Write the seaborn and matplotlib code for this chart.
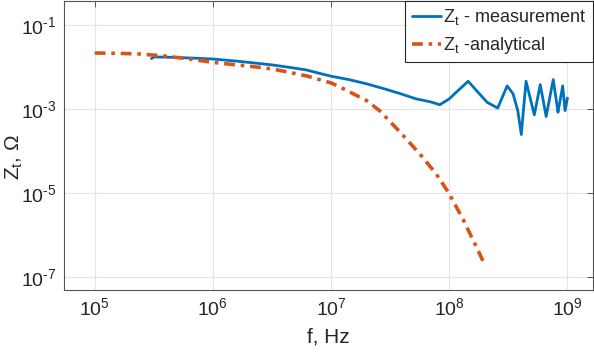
import matplotlib
matplotlib.use("Agg")
import matplotlib.pyplot as plt
import numpy as np
import pandas as pd
import seaborn as sns

# values (log10 of f in Hz, log10 of Z in Ohm)
meas_logf = [5.48, 5.50, 5.66, 5.85, 6.00, 6.20, 6.37, 6.50, 6.65, 6.79, 6.90,
             7.00, 7.15, 7.30, 7.45, 7.58, 7.72, 7.84, 7.92, 8.00, 8.06, 8.16,
             8.23, 8.32, 8.41, 8.49, 8.54, 8.58, 8.61, 8.63, 8.65, 8.69, 8.72,
             8.77, 8.79, 8.82, 8.88, 8.91, 8.92, 8.96, 8.98, 9.00]
meas_logz = [-1.80, -1.76, -1.77, -1.79, -1.81, -1.86, -1.91, -1.95, -2.01, -2.07, -2.15,
             -2.22, -2.30, -2.40, -2.52, -2.63, -2.76, -2.83, -2.90, -2.76, -2.60, -2.34,
             -2.56, -2.84, -2.98, -2.45, -2.64, -3.04, -3.61, -2.96, -2.34, -2.80, -3.14,
             -2.42, -2.72, -3.18, -2.30, -2.88, -3.08, -2.45, -3.04, -2.74]

ana_logf = [5.0, 5.2, 5.38, 5.6, 5.8, 6.0, 6.2, 6.4, 6.51, 6.79, 7.0, 7.07,
            7.30, 7.41, 7.58, 7.75, 7.89, 8.0, 8.12, 8.23, 8.29]
ana_logz = [-1.667, -1.675, -1.69, -1.74, -1.81, -1.89, -1.95, -2.01, -2.05, -2.21, -2.38, -2.47,
            -2.80, -3.04, -3.54, -4.07, -4.55, -5.02, -5.65, -6.29, -6.65]

xticks = [1e5, 1e6, 1e7, 1e8, 1e9]
yticks = [1e-7, 1e-5, 1e-3, 1e-1]
ytick_labels = [r"$\mathregular{10^{\text{-}7}}$", r"$\mathregular{10^{\text{-}5}}$",
                r"$\mathregular{10^{\text{-}3}}$", r"$\mathregular{10^{\text{-}1}}$"]

meas = pd.DataFrame({"f": 10 ** np.array(meas_logf), "Z": 10 ** np.array(meas_logz)})
ana = pd.DataFrame({"f": 10 ** np.array(ana_logf), "Z": 10 ** np.array(ana_logz)})

sns.set_style("white")
plt.rcParams['font.family'] = ['Liberation Sans', 'DejaVu Sans']
plt.rcParams['mathtext.fontset'] = 'custom'
plt.rcParams['mathtext.rm'] = 'Liberation Sans'
plt.rcParams['mathtext.it'] = 'Liberation Sans'

fig = plt.figure(figsize=(5.94, 3.56), dpi=100)
ax = fig.add_axes([0.107, 0.185, 0.891, 0.813])

sns.lineplot(data=meas, x="f", y="Z", ax=ax, color="#0072BD", lw=2.0,
             sort=False, estimator=None, label=r"$\mathregular{Z_t}$ - measurement")
sns.lineplot(data=ana, x="f", y="Z", ax=ax, color="#D95319", lw=2.6,
             sort=False, estimator=None, label=r"$\mathregular{Z_t}$ -analytical")
ax.lines[1].set_linestyle((0, (3.0, 1.6, 1.0, 1.6)))

ax.set_xscale("log")
ax.set_yscale("log")
ax.set_xlim(5.45e4, 1.64e9)
ax.set_ylim(4.8e-8, 0.38)
ax.set_xticks(xticks)
ax.set_yticks(yticks)
ax.set_yticklabels(ytick_labels)
ax.minorticks_off()
ax.tick_params(direction="in", length=4, width=0.6, colors="#404040",
               labelsize=14, labelcolor="#262626", top=True, right=True, pad=5)
ax.grid(True, color="#e3e3e3", lw=0.8)
for s in ax.spines.values():
    s.set_color("#555555")
    s.set_linewidth(0.8)

ax.set_xlabel("f, Hz", fontsize=15, color="#262626", labelpad=6)
ax.set_ylabel(r"$\mathregular{Z_t}$, Ω", fontsize=15, color="#262626")
ax.yaxis.set_label_coords(-0.072, 0.46)

leg = ax.legend(loc="upper right", fontsize=13, frameon=True, fancybox=False,
                borderaxespad=0.0, handlelength=1.6, handletextpad=0.15,
                borderpad=0.35, labelspacing=0.45)
leg.get_frame().set_edgecolor("#262626")
leg.get_frame().set_linewidth(0.8)
leg.get_frame().set_alpha(1)

fig.savefig("out.png", dpi=100)
